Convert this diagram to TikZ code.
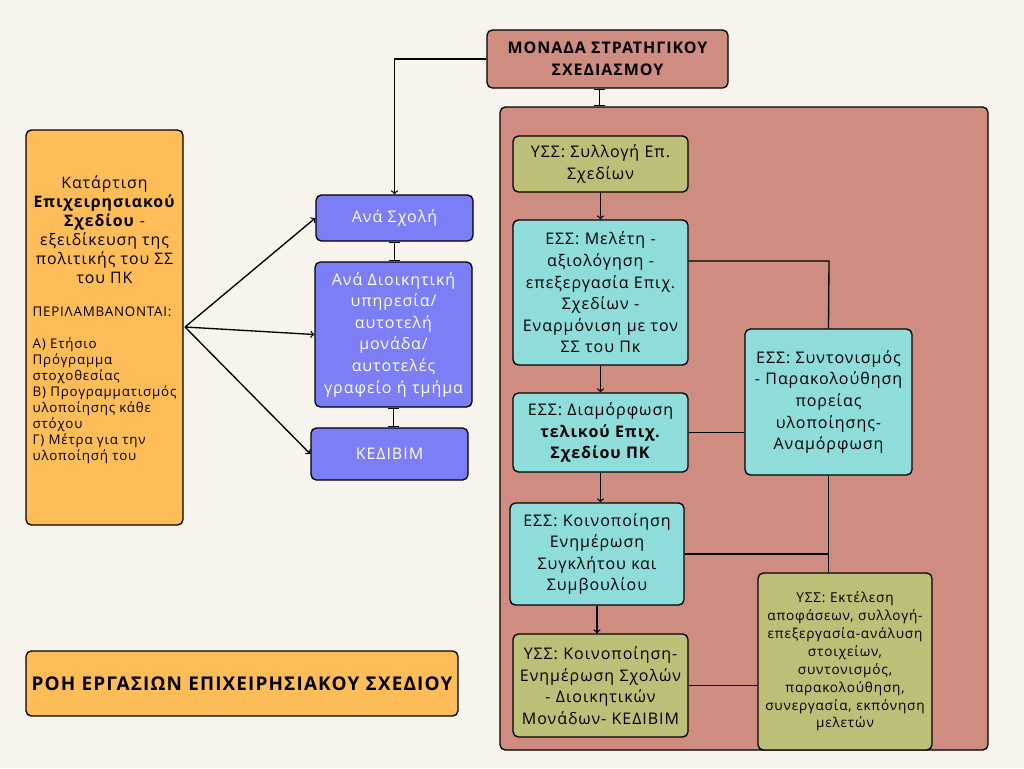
\documentclass[tikz,border=0pt]{standalone}
\usepackage{fontspec}
\setmainfont[LetterSpace=6]{Open Sans}
\usetikzlibrary{arrows}

\definecolor{bgcream}{HTML}{F7F3ED}
\definecolor{orangebox}{HTML}{FFBD59}
\definecolor{rosebox}{HTML}{CF8C81}
\definecolor{bluebox}{HTML}{7B7EF5}
\definecolor{olivebox}{HTML}{BDBE77}
\definecolor{tealbox}{HTML}{8EDDDB}

\tikzset{
  dims/.style 2 args={minimum width=#1*0.75pt,minimum height=#2*0.75pt,text width=#1*0.75pt-4pt},
  box/.style={draw=black,line width=1pt,rounded corners=4pt,align=center,inner sep=0pt},
  body/.style={font=\fontsize{12}{16.2}\selectfont},
  small/.style={font=\fontsize{10.2}{13.4}\selectfont},
}

\begin{document}
\begin{tikzpicture}[x=0.75pt,y=-0.75pt,>=to,line width=1pt]
  \fill[bgcream] (0,0) rectangle (1024,768);
  \useasboundingbox (0,0) rectangle (1024,768);
  % left column
  \node[box,fill=orangebox,dims={157}{395}] (plan) at (104.5,327.5) {};
  \node[font=\fontsize{11.9}{14.3}\selectfont,align=center] (plantitle) at (104.5,229.5)
    {Κατάρτιση\\\textbf{Επιχειρησιακού}\\\textbf{Σχεδίου} -\\εξειδίκευση της\\πολιτικής του ΣΣ\\του ΠΚ};
  \node[font=\fontsize{10}{12}\selectfont,align=left,anchor=north west,inner sep=0pt] (planlist) at (32,306)
    {ΠΕΡΙΛΑΜΒΑΝΟΝΤΑΙ:\\[12pt]Α) Ετήσιο\\Πρόγραμμα\\στοχοθεσίας\\Β) Προγραμματισμός\\υλοποίησης κάθε\\στόχου\\Γ) Μέτρα για την\\υλοποίησή του};
  \node[box,fill=orangebox,dims={432}{65},font=\fontsize{14.2}{15}\selectfont\bfseries] (title) at (242,683.5)
    {ΡΟΗ ΕΡΓΑΣΙΩΝ ΕΠΙΧΕΙΡΗΣΙΑΚΟΥ ΣΧΕΔΙΟΥ};
  % middle column
  \node[box,body,fill=bluebox,text=white,dims={157}{46}] (sxoli) at (394.5,218) {Ανά Σχολή};
  \node[box,body,fill=bluebox,text=white,dims={157}{145}] (dioik) at (393.5,334.5)
    {Ανά Διοικητική\\υπηρεσία/\\αυτοτελή\\μονάδα/\\αυτοτελές\\γραφείο ή τμήμα};
  \node[box,body,fill=bluebox,text=white,dims={157}{52}] (kedivim) at (389.5,454) {ΚΕΔΙΒΙΜ};
  \coordinate (fan) at (185,327);
  \foreach \t in {sxoli,dioik,kedivim}
    \draw[->] (fan) -- (\t.west);
  \draw[|-|] (sxoli.south) -- (sxoli.south |- dioik.north);
  \draw[|-|] (dioik.south) -- (dioik.south |- kedivim.north);
  % strategic unit
  \node[box,fill=rosebox,dims={241}{58},font=\fontsize{12}{16.5}\selectfont\bfseries] (monada) at (607.5,59)
    {ΜΟΝΑΔΑ ΣΤΡΑΤΗΓΙΚΟΥ\\ΣΧΕΔΙΑΣΜΟΥ};
  \node[box,fill=rosebox,dims={488}{643}] (panel) at (744,428.5) {};
  \draw[->] (monada.west) -| (sxoli.north);
  \draw[|-|] ([xshift=-6pt]monada.south) -- ([xshift=-6pt]monada.south |- panel.north);
  % work flow
  \node[box,body,fill=olivebox,dims={175}{56}] (yssA) at (600.5,164) {ΥΣΣ: Συλλογή Επ.\\Σχεδίων};
  \node[box,body,fill=tealbox,dims={175}{145}] (essA) at (600.5,292.5)
    {ΕΣΣ: Μελέτη -\\αξιολόγηση -\\επεξεργασία Επιχ.\\Σχεδίων -\\Εναρμόνιση με τον\\ΣΣ του Πκ};
  \node[box,body,fill=tealbox,dims={175}{79}] (essB) at (600.5,432.5)
    {ΕΣΣ: Διαμόρφωση\\\textbf{τελικού Επιχ.}\\\textbf{Σχεδίου ΠΚ}};
  \node[box,body,fill=tealbox,dims={174}{102}] (essC) at (597,554)
    {ΕΣΣ: Κοινοποίηση\\Ενημέρωση\\Συγκλήτου και\\Συμβουλίου};
  \node[box,body,fill=olivebox,dims={175}{103}] (yssB) at (600.5,685.5)
    {ΥΣΣ: Κοινοποίηση-\\Ενημέρωση Σχολών\\- Διοικητικών\\Μονάδων- ΚΕΔΙΒΙΜ};
  \node[box,body,fill=tealbox,dims={167}{146}] (essD) at (828.5,402)
    {ΕΣΣ: Συντονισμός\\- Παρακολούθηση\\πορείας\\υλοποίησης-\\Αναμόρφωση};
  \node[box,small,fill=olivebox,dims={174}{177}] (yssC) at (845,661.5)
    {ΥΣΣ: Εκτέλεση\\αποφάσεων, συλλογή-\\επεξεργασία-ανάλυση\\στοιχείων,\\συντονισμός,\\παρακολούθηση,\\συνεργασία, εκπόνηση\\μελετών};
  \foreach \a/\b in {yssA/essA,essA/essB,essB/essC,essC/yssB}
    \draw[->] (\a.south) -- (\a.south |- \b.north);
  \coordinate (join) at (829,261);
  \draw (essA.east |- join) -- (join) -- (essD.north);
  \draw (essB.east) -- (essB.east -| essD.west);
  \draw (essD.south) -- (essD.south |- yssC.north);
  \draw (essC.east) -- (essC.east -| essD.south);
  \draw (yssB.east) -- (yssB.east -| yssC.west);
\end{tikzpicture}
\end{document}
